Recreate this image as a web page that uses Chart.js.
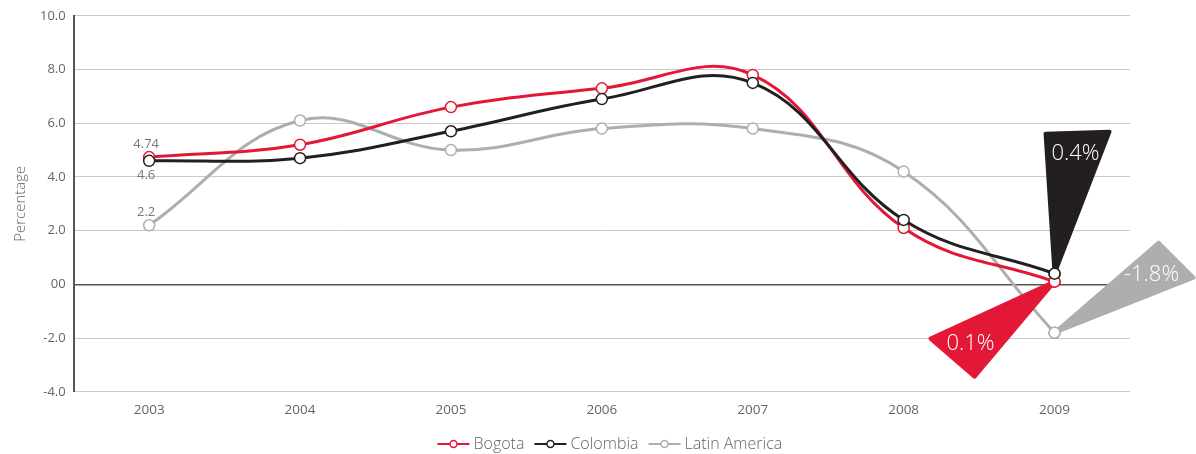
<!DOCTYPE html>
<html>
<head>
<meta charset="utf-8">
<script src="https://cdn.jsdelivr.net/npm/chart.js@4/dist/chart.umd.min.js"></script>
<style>
  html, body { margin: 0; padding: 0; background: #fff; }
  #wrap { width: 1196px; height: 454px; }
</style>
</head>
<body>
<div id="wrap"><canvas id="chart"></canvas></div>
<script>
const years = ['2003', '2004', '2005', '2006', '2007', '2008', '2009'];
const bogota = [4.74, 5.2, 6.6, 7.3, 7.8, 2.1, 0.1];
const colombia = [4.6, 4.7, 5.7, 6.9, 7.5, 2.4, 0.4];
const latinAmerica = [2.2, 6.1, 5.0, 5.8, 5.8, 4.2, -1.8];
const calloutLabels = ['0.1%', '0.4%', '-1.8%'];

const RED = '#e31837';
const BLACK = '#231f20';
const GREY = '#aeaeae';

function series(label, data, color, order) {
    return {
        label: label,
        data: data,
        borderColor: color,
        borderWidth: 3,
        tension: 0.4,
        pointRadius: 5.5,
        pointBackgroundColor: '#fff',
        pointBorderColor: color,
        pointBorderWidth: 1.5,
        order: order
    };
}

// wedge-shaped callouts at the last point of every series
const callouts = {
    id: 'callouts',
    afterDatasetsDraw(chart) {
        const ctx = chart.ctx;
        const shapes = [
            { ds: 0, pts: [[-124, 57], [-80, 95]], text: [-84, 62], color: RED },
            { ds: 1, pts: [[-9, -140], [55, -142]], text: [21, -120], color: BLACK },
            { ds: 2, pts: [[104, -90], [139, -55]], text: [97, -58], color: GREY }
        ];
        ctx.save();
        shapes.forEach((s, i) => {
            let meta = chart.getDatasetMeta(s.ds);
            let p = meta.data[meta.data.length - 1];
            ctx.fillStyle = s.color;
            ctx.strokeStyle = s.color;
            ctx.lineWidth = 4;
            ctx.lineJoin = 'round';
            ctx.beginPath();
            ctx.moveTo(p.x, p.y);
            s.pts.forEach(o => ctx.lineTo(p.x + o[0], p.y + o[1]));
            ctx.closePath();
            ctx.fill();
            ctx.stroke();
            ctx.fillStyle = '#fff';
            ctx.font = '300 22px "Open Sans"';
            ctx.textAlign = 'center';
            ctx.textBaseline = 'middle';
            ctx.fillText(calloutLabels[i], p.x + s.text[0], p.y + s.text[1]);
            p.draw(ctx);
        });
        ctx.restore();
    }
};

// value labels for the first year
const firstLabels = {
    id: 'firstLabels',
    afterDatasetsDraw(chart) {
        const ctx = chart.ctx;
        const marks = [
            { ds: 0, dy: -13 },
            { ds: 1, dy: 14 },
            { ds: 2, dy: -13 }
        ];
        ctx.save();
        ctx.fillStyle = '#777';
        ctx.font = '13px "Open Sans"';
        ctx.textAlign = 'center';
        ctx.textBaseline = 'middle';
        marks.forEach(m => {
            let p = chart.getDatasetMeta(m.ds).data[0];
            let v = chart.data.datasets[m.ds].data[0];
            ctx.fillText(String(v), p.x - 3, p.y + m.dy);
        });
        ctx.restore();
    }
};

// legend with a line + circle swatch, centred under the chart
const lineLegend = {
    id: 'lineLegend',
    afterDraw(chart) {
        const ctx = chart.ctx;
        const y = chart.height - 10;
        const swatch = 32, gap = 4, space = 10;
        ctx.save();
        ctx.font = '300 16px "Open Sans"';
        ctx.textBaseline = 'middle';
        let items = chart.data.datasets.map(d => ({
            d: d,
            w: swatch + gap + ctx.measureText(d.label).width
        }));
        let total = items.reduce((a, it) => a + it.w, 0) + space * (items.length - 1);
        let x = (chart.chartArea.left + chart.chartArea.right) / 2 - total / 2 + 8;
        items.forEach(it => {
            ctx.strokeStyle = it.d.borderColor;
            ctx.lineWidth = 2;
            ctx.beginPath();
            ctx.moveTo(x, y);
            ctx.lineTo(x + swatch, y);
            ctx.stroke();
            ctx.fillStyle = '#fff';
            ctx.lineWidth = 1.5;
            ctx.beginPath();
            ctx.arc(x + swatch / 2, y, 3.5, 0, Math.PI * 2);
            ctx.fill();
            ctx.stroke();
            ctx.fillStyle = '#666';
            ctx.textAlign = 'left';
            ctx.fillText(it.d.label, x + swatch + gap, y);
            x += it.w + space;
        });
        ctx.restore();
    }
};

new Chart(document.getElementById('chart'), {
    type: 'line',
    data: {
        labels: years,
        datasets: [
            series('Bogota', bogota, RED, 2),
            series('Colombia', colombia, BLACK, 1),
            series('Latin America', latinAmerica, GREY, 3)
        ]
    },
    options: {
        responsive: true,
        maintainAspectRatio: false,
        animation: false,
        layout: { padding: { top: 8, right: 66, bottom: 34, left: 10 } },
        plugins: {
            tooltip: { enabled: false },
            legend: { display: false }
        },
        scales: {
            x: {
                offset: true,
                grid: { display: false },
                border: { display: false },
                ticks: {
                    color: '#666',
                    font: { family: 'Open Sans', size: 13.5 },
                    padding: 2
                }
            },
            y: {
                min: -4,
                max: 10,
                ticks: {
                    stepSize: 2,
                    color: '#666',
                    font: { family: 'Open Sans', size: 13 },
                    padding: 8,
                    callback: v => v === 0 ? '00' : v.toFixed(1)
                },
                grid: {
                    color: ctx => ctx.tick && ctx.tick.value === 0 ? '#555' : '#c9c9c9',
                    lineWidth: ctx => ctx.tick && ctx.tick.value === 0 ? 1.5 : 1,
                    drawTicks: false
                },
                border: { display: true, color: '#555', width: 2 },
                title: {
                    display: true,
                    text: 'Percentage',
                    color: '#666',
                    font: { family: 'Open Sans', size: 15, weight: 300 },
                    padding: 2
                }
            }
        }
    },
    plugins: [callouts, firstLabels, lineLegend]
});
</script>
</body>
</html>
